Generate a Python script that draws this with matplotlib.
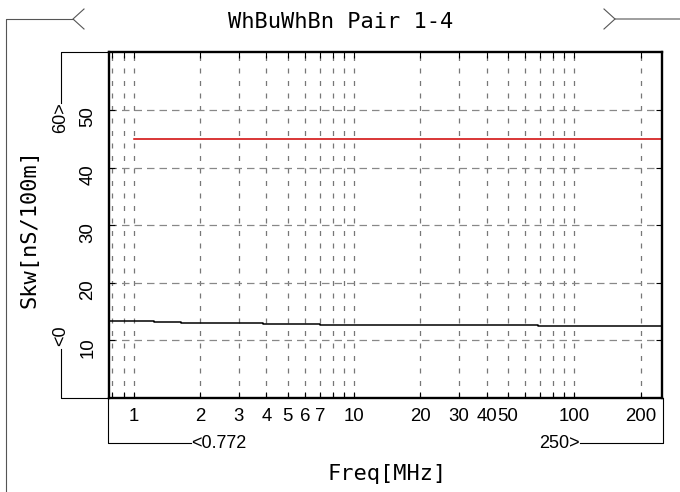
import matplotlib
matplotlib.use("Agg")
import matplotlib.pyplot as plt
from matplotlib.lines import Line2D
from matplotlib.ticker import NullLocator
from matplotlib.transforms import ScaledTranslation

# data
limit_freq = [1, 250]
limit_skew = [45, 45]
freq = [0.772, 0.93, 1.23, 1.64, 3.87, 7.0, 15.8, 68.4, 250]
skew = [13.42, 13.30, 13.14, 12.95, 12.79, 12.67, 12.60, 12.45, 12.45]

x_ticks = [0.8, 0.9, 1, 2, 3, 4, 5, 6, 7, 8, 9, 10, 20, 30, 40, 50, 60, 70, 80, 90, 100, 200]
x_shown = [1, 2, 3, 4, 5, 6, 7, 10, 20, 30, 40, 50, 100, 200]
y_ticks = [10, 20, 30, 40, 50]

W, H = 680, 492
narrow = ["Liberation Sans"]
mono = ["DejaVu Sans Mono"]

fig = plt.figure(figsize=(W / 100, H / 100), dpi=100)
L, R, T, B = 109, 662, 52.4, 398
ax = fig.add_axes([L / W, 1 - B / H, (R - L) / W, (B - T) / H])

ax.step(freq, skew, where="post", color="black", lw=1.1)
ax.plot(limit_freq, limit_skew, color="#d00000", lw=1.1)

ax.set_xscale("log")
ax.set_xlim(0.772, 250)
ax.set_ylim(0, 60)
ax.set_xticks(x_ticks)
ax.set_xticklabels([str(t) if t in x_shown else "" for t in x_ticks])
ax.xaxis.set_minor_locator(NullLocator())
ax.set_yticks(y_ticks)
ax.set_yticklabels([str(t) for t in y_ticks], rotation=90, va="center")

ax.tick_params(direction="in", length=4, width=0.8, top=True, right=True,
               labelsize=13.4)
ax.tick_params(axis="x", pad=7)
ax.tick_params(axis="y", pad=9)
for lab in ax.get_xticklabels() + ax.get_yticklabels():
    lab.set_family(narrow)
for lab in ax.get_yticklabels():
    lab.set_transform(lab.get_transform() + ScaledTranslation(0, -0.07, fig.dpi_scale_trans))

ax.grid(axis="x", color="#777777", lw=0.9, linestyle=(0, (4, 6)))
ax.grid(axis="y", color="#888888", lw=0.9, linestyle=(0, (6, 4)))
for s in ax.spines.values():
    s.set_linewidth(1.7)


def px_line(xs, ys, color="black", lw=0.8):
    fig.add_artist(Line2D([x / W for x in xs], [1 - y / H for y in ys],
                          transform=fig.transFigure, color=color, lw=lw))


def px_text(x, y, s, **kw):
    fig.text(x / W, 1 - y / H, s, **kw)


# title with side brackets
px_text(341, 22, "WhBuWhBn Pair 1-4", family=mono, fontsize=15.8, ha="center", va="center")
px_line([6, 6, 73], [492, 19, 19], color="#555555")
px_line([84, 73, 84], [9, 19, 29], color="#555555")
px_line([604, 615, 680], [9, 19, 19], color="#555555")
px_line([604, 615], [29, 19], color="#555555")

# axis labels
px_text(30, 228, "Skw[nS/100m]", family=mono, fontsize=15.8, rotation=90, ha="center", va="center")
px_text(387, 474, "Freq[MHz]", family=mono, fontsize=15.8, ha="center", va="center")

# y range bracket
px_line([L, 61, 61], [T, T, 103])
px_text(61, 118, "60>", family=narrow, fontsize=13, rotation=90, ha="center", va="center")
px_text(61, 336, "<0", family=narrow, fontsize=13, rotation=90, ha="center", va="center")
px_line([61, 61, L], [349, B, B])

# x range bracket
px_line([108.3, 108.3, 191], [B, 442.7, 442.7])
px_text(191, 443, "<0.772", family=narrow, fontsize=13, ha="left", va="center")
px_text(580, 443, "250>", family=narrow, fontsize=13, ha="right", va="center")
px_line([580, 662.7, 662.7], [442.7, 442.7, B])

fig.savefig("out.png", dpi=100)
